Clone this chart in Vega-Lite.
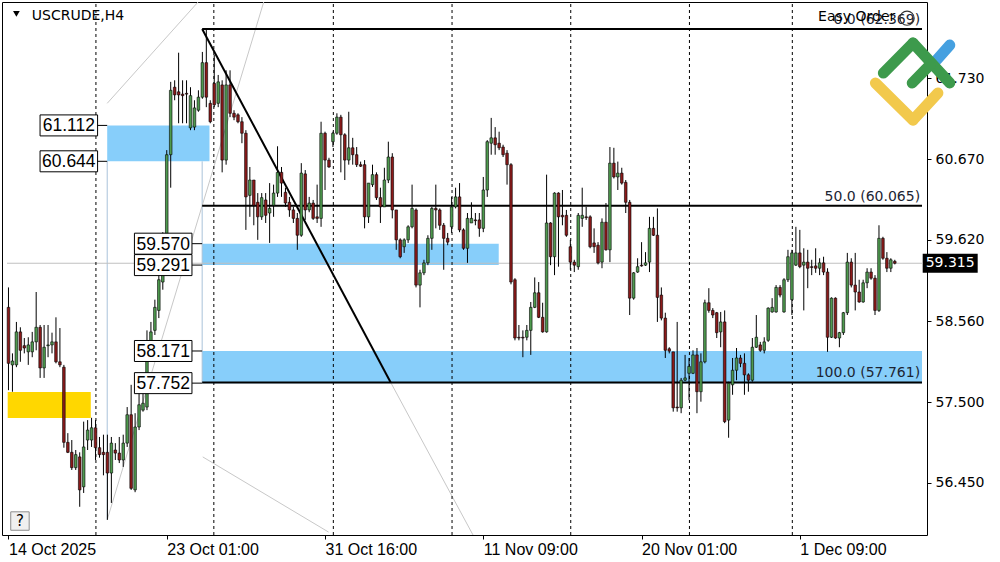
{
"$schema": "https://vega.github.io/schema/vega-lite/v6.json",
"width": 925, "height": 533,
"autosize": {"type": "none"},
"padding": {"left": 2, "top": 2, "right": 73, "bottom": 27},
"background": "white",
"config": {"view": {"stroke": "#000000", "strokeWidth": 1, "fill": "white"}},
"datasets": {
"candles": [
{"i":0,"o":58.74,"h":59.0,"l":57.66,"c":58.01},{"i":1,"o":57.99,"h":58.14,"l":57.64,"c":58.04},{"i":2,"o":57.99,"h":58.55,"l":57.96,"c":58.42},{"i":3,"o":58.42,"h":58.48,"l":58.03,"c":58.18},{"i":4,"o":58.24,"h":58.34,"l":58.14,"c":58.21},{"i":5,"o":58.16,"h":58.35,"l":57.99,"c":58.25},{"i":6,"o":58.16,"h":58.42,"l":58.09,"c":58.29},{"i":7,"o":58.29,"h":58.94,"l":58.18,"c":58.48},{"i":8,"o":58.48,"h":58.51,"l":57.82,"c":57.95},{"i":9,"o":57.95,"h":58.51,"l":57.82,"c":58.22},
{"i":10,"o":58.24,"h":58.51,"l":58.09,"c":58.25},{"i":11,"o":58.25,"h":58.41,"l":58.14,"c":58.29},{"i":12,"o":58.29,"h":58.61,"l":58.01,"c":58.03},{"i":13,"o":58.03,"h":58.47,"l":57.96,"c":57.99},{"i":14,"o":57.96,"h":57.99,"l":56.91,"c":56.98},{"i":15,"o":56.98,"h":57.1,"l":56.84,"c":56.85},{"i":16,"o":56.85,"h":57.01,"l":56.62,"c":56.65},{"i":17,"o":56.65,"h":56.88,"l":56.62,"c":56.82},{"i":18,"o":56.79,"h":56.85,"l":56.14,"c":56.36},{"i":19,"o":56.4,"h":57.25,"l":56.32,"c":56.92},
{"i":20,"o":57.01,"h":57.27,"l":56.88,"c":57.14},{"i":21,"o":57.01,"h":57.3,"l":56.92,"c":57.17},{"i":22,"o":57.17,"h":57.27,"l":56.75,"c":56.91},{"i":23,"o":56.91,"h":57.05,"l":56.78,"c":56.82},{"i":24,"o":56.85,"h":57.08,"l":56.55,"c":56.82},{"i":25,"o":56.85,"h":57.08,"l":55.97,"c":56.58},{"i":26,"o":56.58,"h":57.05,"l":56.19,"c":56.97},{"i":27,"o":56.88,"h":56.97,"l":56.75,"c":56.84},{"i":28,"o":56.84,"h":57.05,"l":56.71,"c":56.75},{"i":29,"o":56.75,"h":57.08,"l":56.66,"c":56.97},
{"i":30,"o":56.97,"h":57.44,"l":56.92,"c":57.34},{"i":31,"o":57.34,"h":57.73,"l":56.36,"c":56.38},{"i":32,"o":56.36,"h":57.36,"l":56.33,"c":57.18},{"i":33,"o":57.18,"h":57.7,"l":57.14,"c":57.47},{"i":34,"o":57.4,"h":57.75,"l":57.38,"c":57.49},{"i":35,"o":57.44,"h":58.44,"l":57.4,"c":58.18},{"i":36,"o":58.18,"h":58.55,"l":58.12,"c":58.42},{"i":37,"o":58.44,"h":58.84,"l":58.38,"c":58.74},{"i":38,"o":58.7,"h":59.23,"l":58.6,"c":59.1},{"i":39,"o":59.07,"h":59.72,"l":58.97,"c":59.62},
{"i":40,"o":59.55,"h":60.79,"l":59.45,"c":60.73},{"i":41,"o":60.73,"h":61.68,"l":60.3,"c":61.57},{"i":42,"o":61.61,"h":61.7,"l":61.44,"c":61.51},{"i":43,"o":61.55,"h":62.06,"l":61.14,"c":61.51},{"i":44,"o":61.52,"h":61.7,"l":61.14,"c":61.5},{"i":45,"o":61.53,"h":61.7,"l":61.14,"c":61.52},{"i":46,"o":61.08,"h":61.61,"l":61.05,"c":61.5},{"i":47,"o":61.09,"h":61.44,"l":61.05,"c":61.34},{"i":48,"o":61.31,"h":61.57,"l":61.29,"c":61.48},{"i":49,"o":61.48,"h":62.07,"l":61.46,"c":61.93},
{"i":50,"o":61.93,"h":62.369,"l":61.35,"c":61.48},{"i":51,"o":61.4,"h":61.44,"l":61.14,"c":61.16},{"i":52,"o":61.66,"h":62.03,"l":61.35,"c":61.38},{"i":53,"o":61.4,"h":61.77,"l":61.35,"c":61.68},{"i":54,"o":61.64,"h":61.7,"l":60.5,"c":60.66},{"i":55,"o":60.66,"h":61.83,"l":60.6,"c":61.64},{"i":56,"o":61.64,"h":61.83,"l":61.22,"c":61.27},{"i":57,"o":61.27,"h":61.31,"l":61.18,"c":61.22},{"i":58,"o":61.25,"h":61.27,"l":61.14,"c":61.16},{"i":59,"o":61.16,"h":61.22,"l":60.88,"c":61.01},
{"i":60,"o":61.01,"h":61.05,"l":59.75,"c":60.18},{"i":61,"o":60.2,"h":60.57,"l":59.92,"c":60.4},{"i":62,"o":60.4,"h":60.4,"l":59.81,"c":60.07},{"i":63,"o":60.11,"h":60.23,"l":59.62,"c":59.92},{"i":64,"o":59.92,"h":60.23,"l":59.88,"c":60.17},{"i":65,"o":60.14,"h":60.23,"l":59.84,"c":59.94},{"i":66,"o":59.97,"h":60.36,"l":59.58,"c":60.03},{"i":67,"o":60.07,"h":60.34,"l":59.92,"c":60.23},{"i":68,"o":60.23,"h":60.84,"l":60.18,"c":60.5},{"i":69,"o":60.5,"h":60.57,"l":60.18,"c":60.36},
{"i":70,"o":60.24,"h":60.3,"l":60.05,"c":60.1},{"i":71,"o":60.11,"h":60.18,"l":59.92,"c":60.01},{"i":72,"o":60.01,"h":60.05,"l":59.84,"c":59.9},{"i":73,"o":59.9,"h":59.97,"l":59.49,"c":59.68},{"i":74,"o":59.68,"h":60.62,"l":59.66,"c":60.49},{"i":75,"o":60.48,"h":60.53,"l":59.88,"c":60.01},{"i":76,"o":60.01,"h":60.18,"l":59.98,"c":60.1},{"i":77,"o":60.1,"h":60.14,"l":59.88,"c":59.9},{"i":78,"o":59.92,"h":60.34,"l":59.84,"c":59.9},{"i":79,"o":59.9,"h":61.16,"l":59.79,"c":61.01},
{"i":80,"o":61.01,"h":61.03,"l":60.27,"c":60.66},{"i":81,"o":60.66,"h":60.69,"l":60.56,"c":60.57},{"i":82,"o":60.9,"h":61.03,"l":60.83,"c":61.01},{"i":83,"o":61.01,"h":61.27,"l":60.99,"c":61.22},{"i":84,"o":61.22,"h":61.25,"l":60.5,"c":60.99},{"i":85,"o":60.99,"h":61.01,"l":60.4,"c":60.66},{"i":86,"o":60.66,"h":61.29,"l":60.6,"c":60.82},{"i":87,"o":60.82,"h":60.95,"l":60.6,"c":60.73},{"i":88,"o":60.73,"h":60.83,"l":60.57,"c":60.6},{"i":89,"o":60.6,"h":60.64,"l":60.57,"c":60.58},
{"i":90,"o":60.6,"h":60.66,"l":59.77,"c":59.92},{"i":91,"o":59.92,"h":60.36,"l":59.84,"c":60.36},{"i":92,"o":60.34,"h":60.6,"l":60.31,"c":60.47},{"i":93,"o":60.47,"h":60.5,"l":60.14,"c":60.17},{"i":94,"o":60.17,"h":60.3,"l":59.84,"c":60.05},{"i":95,"o":60.05,"h":60.56,"l":60.05,"c":60.4},{"i":96,"o":60.4,"h":60.9,"l":60.36,"c":60.7},{"i":97,"o":60.7,"h":60.75,"l":59.9,"c":60.01},{"i":98,"o":60.01,"h":60.01,"l":59.49,"c":59.62},{"i":99,"o":59.62,"h":59.64,"l":59.38,"c":59.4},
{"i":100,"o":59.53,"h":59.64,"l":59.45,"c":59.62},{"i":101,"o":59.62,"h":59.81,"l":59.58,"c":59.79},{"i":102,"o":59.79,"h":60.34,"l":59.77,"c":60.03},{"i":103,"o":60.01,"h":60.03,"l":59.0,"c":59.03},{"i":104,"o":59.03,"h":59.23,"l":58.74,"c":59.19},{"i":105,"o":59.19,"h":59.36,"l":59.16,"c":59.32},{"i":106,"o":59.32,"h":59.68,"l":59.29,"c":59.64},{"i":107,"o":59.64,"h":60.05,"l":59.49,"c":60.03},{"i":108,"o":60.03,"h":60.34,"l":59.77,"c":60.01},{"i":109,"o":60.01,"h":60.03,"l":59.75,"c":59.81},
{"i":110,"o":59.81,"h":59.84,"l":59.23,"c":59.64},{"i":111,"o":59.64,"h":59.71,"l":59.55,"c":59.59},{"i":112,"o":59.79,"h":60.18,"l":59.71,"c":60.05},{"i":113,"o":60.05,"h":60.3,"l":60.03,"c":60.18},{"i":114,"o":60.18,"h":60.36,"l":59.72,"c":59.75},{"i":115,"o":59.75,"h":59.77,"l":59.49,"c":59.51},{"i":116,"o":59.51,"h":59.97,"l":59.32,"c":59.9},{"i":117,"o":59.84,"h":60.11,"l":59.84,"c":59.9},{"i":118,"o":59.88,"h":59.97,"l":59.81,"c":59.87},{"i":119,"o":59.88,"h":59.97,"l":59.66,"c":59.77},
{"i":120,"o":59.77,"h":60.44,"l":59.72,"c":60.27},{"i":121,"o":60.27,"h":60.92,"l":60.18,"c":60.9},{"i":122,"o":60.88,"h":61.21,"l":60.73,"c":60.95},{"i":123,"o":60.95,"h":61.09,"l":60.73,"c":60.86},{"i":124,"o":60.88,"h":61.03,"l":60.79,"c":60.82},{"i":125,"o":60.83,"h":60.86,"l":60.7,"c":60.73},{"i":126,"o":60.75,"h":60.79,"l":60.34,"c":60.6},{"i":127,"o":60.6,"h":60.62,"l":59.04,"c":59.07},{"i":128,"o":59.1,"h":59.12,"l":58.31,"c":58.34},{"i":129,"o":58.35,"h":58.51,"l":58.31,"c":58.34},
{"i":130,"o":58.35,"h":58.44,"l":58.09,"c":58.34},{"i":131,"o":58.35,"h":58.51,"l":58.31,"c":58.44},{"i":132,"o":58.44,"h":58.81,"l":58.12,"c":58.74},{"i":133,"o":58.74,"h":59.13,"l":58.73,"c":58.93},{"i":134,"o":58.93,"h":59.07,"l":58.6,"c":58.61},{"i":135,"o":58.61,"h":58.8,"l":58.41,"c":58.42},{"i":136,"o":58.42,"h":60.47,"l":58.41,"c":59.84},{"i":137,"o":59.84,"h":59.85,"l":59.29,"c":59.4},{"i":138,"o":59.4,"h":60.24,"l":59.16,"c":60.23},{"i":139,"o":60.23,"h":60.24,"l":59.27,"c":59.92},
{"i":140,"o":59.94,"h":60.27,"l":59.81,"c":59.92},{"i":141,"o":59.94,"h":60.01,"l":59.66,"c":59.68},{"i":142,"o":59.53,"h":59.62,"l":59.23,"c":59.33},{"i":143,"o":59.33,"h":59.36,"l":59.2,"c":59.29},{"i":144,"o":59.27,"h":59.97,"l":59.23,"c":59.94},{"i":145,"o":59.9,"h":60.3,"l":59.79,"c":59.94},{"i":146,"o":59.92,"h":60.05,"l":59.88,"c":59.91},{"i":147,"o":59.92,"h":59.94,"l":59.51,"c":59.53},{"i":148,"o":59.58,"h":59.77,"l":59.45,"c":59.53},{"i":149,"o":59.55,"h":59.59,"l":59.3,"c":59.32},
{"i":150,"o":59.33,"h":59.9,"l":59.25,"c":59.85},{"i":151,"o":59.85,"h":60.1,"l":59.48,"c":59.49},{"i":152,"o":59.49,"h":60.83,"l":59.33,"c":60.62},{"i":153,"o":60.62,"h":60.82,"l":60.42,"c":60.44},{"i":154,"o":60.44,"h":60.64,"l":60.27,"c":60.49},{"i":155,"o":60.49,"h":60.56,"l":60.34,"c":60.36},{"i":156,"o":60.37,"h":60.4,"l":59.97,"c":60.11},{"i":157,"o":60.11,"h":60.14,"l":58.64,"c":58.86},{"i":158,"o":58.86,"h":59.2,"l":58.84,"c":59.19},{"i":159,"o":59.2,"h":59.38,"l":59.19,"c":59.27},
{"i":160,"o":59.29,"h":59.59,"l":59.27,"c":59.28},{"i":161,"o":59.29,"h":59.46,"l":59.28,"c":59.32},{"i":162,"o":59.33,"h":59.92,"l":59.2,"c":59.77},{"i":163,"o":59.77,"h":59.92,"l":59.67,"c":59.68},{"i":164,"o":59.68,"h":60.03,"l":58.55,"c":58.87},{"i":165,"o":58.9,"h":59.0,"l":58.57,"c":58.6},{"i":166,"o":58.6,"h":58.67,"l":58.08,"c":58.18},{"i":167,"o":58.2,"h":58.22,"l":58.14,"c":58.17},{"i":168,"o":58.16,"h":58.16,"l":57.38,"c":57.43},{"i":169,"o":57.44,"h":58.55,"l":57.38,"c":57.43},
{"i":170,"o":57.43,"h":57.82,"l":57.36,"c":57.79},{"i":171,"o":57.79,"h":58.12,"l":57.78,"c":57.82},{"i":172,"o":57.88,"h":58.08,"l":57.53,"c":57.97},{"i":173,"o":57.88,"h":58.18,"l":57.87,"c":58.12},{"i":174,"o":58.12,"h":58.21,"l":57.36,"c":57.64},{"i":175,"o":57.64,"h":58.14,"l":57.51,"c":58.03},{"i":176,"o":58.03,"h":58.84,"l":58.01,"c":58.8},{"i":177,"o":58.8,"h":58.99,"l":58.67,"c":58.7},{"i":178,"o":58.7,"h":58.73,"l":58.6,"c":58.64},{"i":179,"o":58.67,"h":58.68,"l":58.34,"c":58.41},
{"i":180,"o":58.42,"h":58.68,"l":58.22,"c":58.55},{"i":181,"o":58.55,"h":58.7,"l":57.23,"c":57.25},{"i":182,"o":57.27,"h":57.77,"l":57.04,"c":57.75},{"i":183,"o":57.73,"h":58.08,"l":57.6,"c":57.92},{"i":184,"o":57.92,"h":58.21,"l":57.79,"c":58.08},{"i":185,"o":58.08,"h":58.12,"l":57.96,"c":58.01},{"i":186,"o":58.01,"h":58.14,"l":57.6,"c":57.86},{"i":187,"o":57.86,"h":57.88,"l":57.64,"c":57.79},{"i":188,"o":57.79,"h":58.34,"l":57.77,"c":58.22},{"i":189,"o":58.22,"h":58.64,"l":58.21,"c":58.35},
{"i":190,"o":58.25,"h":58.29,"l":58.16,"c":58.18},{"i":191,"o":58.18,"h":58.35,"l":58.14,"c":58.29},{"i":192,"o":58.31,"h":58.74,"l":58.29,"c":58.73},{"i":193,"o":58.68,"h":58.86,"l":58.67,"c":58.74},{"i":194,"o":58.68,"h":59.03,"l":58.67,"c":59.0},{"i":195,"o":59.0,"h":59.03,"l":58.87,"c":58.9},{"i":196,"o":58.68,"h":59.12,"l":58.67,"c":59.1},{"i":197,"o":59.1,"h":59.49,"l":59.07,"c":59.4},{"i":198,"o":58.84,"h":59.49,"l":58.64,"c":59.45},{"i":199,"o":59.29,"h":59.79,"l":59.28,"c":59.45},
{"i":200,"o":59.45,"h":59.75,"l":59.25,"c":59.27},{"i":201,"o":59.29,"h":59.51,"l":58.7,"c":59.33},{"i":202,"o":59.33,"h":59.49,"l":58.99,"c":59.25},{"i":203,"o":59.27,"h":59.36,"l":59.16,"c":59.26},{"i":204,"o":59.28,"h":59.51,"l":59.19,"c":59.25},{"i":205,"o":59.25,"h":59.38,"l":59.16,"c":59.32},{"i":206,"o":59.32,"h":59.4,"l":59.16,"c":59.2},{"i":207,"o":59.2,"h":59.25,"l":58.16,"c":58.35},{"i":208,"o":58.35,"h":58.87,"l":58.34,"c":58.86},{"i":209,"o":58.86,"h":58.87,"l":58.33,"c":58.34},
{"i":210,"o":58.34,"h":58.42,"l":58.22,"c":58.41},{"i":211,"o":58.41,"h":58.68,"l":58.38,"c":58.67},{"i":212,"o":58.67,"h":59.45,"l":58.64,"c":59.33},{"i":213,"o":59.33,"h":59.38,"l":59.0,"c":59.03},{"i":214,"o":59.03,"h":59.45,"l":58.7,"c":58.94},{"i":215,"o":58.94,"h":59.1,"l":58.8,"c":58.81},{"i":216,"o":58.81,"h":59.1,"l":58.8,"c":59.06},{"i":217,"o":59.06,"h":59.25,"l":58.99,"c":59.2},{"i":218,"o":59.2,"h":59.25,"l":59.1,"c":59.12},{"i":219,"o":59.12,"h":59.16,"l":58.64,"c":58.7},
{"i":220,"o":58.7,"h":59.81,"l":58.68,"c":59.64},{"i":221,"o":59.64,"h":59.66,"l":59.36,"c":59.38},{"i":222,"o":59.38,"h":59.46,"l":59.2,"c":59.25},{"i":223,"o":59.25,"h":59.38,"l":59.2,"c":59.36},{"i":224,"o":59.34,"h":59.36,"l":59.3,"c":59.315}
]
},
"encoding": {
"x": {"field": "i", "type": "quantitative", "title": null,
"scale": {"domain": [-0.375, 230.875], "nice": false, "zero": false},
"axis": {"values": [0, 40, 80, 120, 160, 200], "labelExpr": "datum.value == 0 ? '14 Oct 2025' : datum.value == 40 ? '23 Oct 01:00' : datum.value == 80 ? '31 Oct 16:00' : datum.value == 120 ? '11 Nov 09:00' : datum.value == 160 ? '20 Nov 01:00' : '1 Dec 09:00'",
"labelAlign": "left", "labelBaseline": "top", "labelPadding": 2, "tickSize": 4, "tickColor": "#000000", "domain": false, "grid": false, "labelFont": "Liberation Sans", "labelFontSize": 16, "labelColor": "#000000", "labelFlush": false, "labelOverlap": false}},
"y": {"field": "p", "type": "quantitative", "title": null,
"scale": {"domain": [55.772, 62.721], "nice": false, "zero": false},
"axis": {"orient": "right", "values": [56.45, 57.5, 58.56, 59.62, 60.67, 61.73], "format": ".3f", "tickSize": 4, "tickColor": "#000000", "labelPadding": 4, "domain": false, "grid": false, "labelFont": "DejaVu Sans", "labelFontSize": 14, "labelColor": "#000000", "labelFlush": false, "labelOverlap": false}}
},
"layer": [
{"data": {"values": [{"i": 24.95, "i2": 50.8, "p": 61.112, "p2": 60.644}, {"i": 48.95, "i2": 123.9, "p": 59.57, "p2": 59.291}, {"i": 48.95, "i2": 230.875, "p": 58.171, "p2": 57.752}]},
"mark": {"type": "rect", "color": "#87cefa"},
"encoding": {"x2": {"field": "i2"}, "y2": {"field": "p2"}}},
{"data": {"values": [{"i": -0.2, "i2": 20.8, "p": 57.636, "p2": 57.297}]},
"mark": {"type": "rect", "color": "#ffd700"},
"encoding": {"x2": {"field": "i2"}, "y2": {"field": "p2"}}},
{"data": {"values": [{"i": 24.95, "p": 60.644, "p2": 55.97}, {"i": 48.95, "p": 60.644, "p2": 57.761}]},
"mark": {"type": "rule", "color": "#a9c2da", "strokeWidth": 1},
"encoding": {"y2": {"field": "p2"}}},
{"data": {"values": [{"i": 24.95, "p": 55.97, "i2": 64.5, "p2": 62.72}, {"i": 24.95, "p": 61.4, "i2": 47.9, "p2": 62.72}, {"i": 49.1, "p": 56.79, "i2": 80.9, "p2": 55.81}, {"i": 96.6, "p": 57.761, "i2": 117.4, "p2": 55.772}]},
"mark": {"type": "rule", "color": "#c8c8c8", "strokeWidth": 1},
"encoding": {"x2": {"field": "i2"}, "y2": {"field": "p2"}}},
{"data": {"values": [{"i": -0.375, "i2": 230.875, "p": 59.315}]},
"mark": {"type": "rule", "color": "#c0c0c0", "strokeWidth": 1},
"encoding": {"x2": {"field": "i2"}}},
{"data": {"values": [{"i": 22.1, "p": 55.772, "p2": 62.721}, {"i": 51.9, "p": 55.772, "p2": 62.721}, {"i": 82.1, "p": 55.772, "p2": 62.721}, {"i": 112.1, "p": 55.772, "p2": 62.721}, {"i": 142.1, "p": 55.772, "p2": 62.721}, {"i": 172.1, "p": 55.772, "p2": 62.721}, {"i": 198.1, "p": 55.772, "p2": 62.721}]},
"mark": {"type": "rule", "color": "#000000", "strokeWidth": 1, "strokeDash": [3, 3]},
"encoding": {"y2": {"field": "p2"}}},
{"data": {"values": [{"i": 48.95, "i2": 230.875, "p": 62.369}, {"i": 48.95, "i2": 230.875, "p": 60.065}, {"i": 48.95, "i2": 230.875, "p": 57.761}]},
"mark": {"type": "rule", "color": "#000000", "strokeWidth": 2},
"encoding": {"x2": {"field": "i2"}}},
{"data": {"values": [{"i": 48.95, "p": 62.369, "i2": 96.6, "p2": 57.761}]},
"mark": {"type": "rule", "color": "#000000", "strokeWidth": 2},
"encoding": {"x2": {"field": "i2"}, "y2": {"field": "p2"}}},
{"data": {"name": "candles"},
"mark": {"type": "rule", "color": "#000000", "strokeWidth": 1},
"encoding": {"y": {"field": "l", "type": "quantitative", "title": null,
"scale": {"domain": [55.772, 62.721], "nice": false, "zero": false},
"axis": {"orient": "right", "values": [56.45, 57.5, 58.56, 59.62, 60.67, 61.73], "format": ".3f", "tickSize": 4, "tickColor": "#000000", "labelPadding": 4, "domain": false, "grid": false, "labelFont": "DejaVu Sans", "labelFontSize": 14, "labelColor": "#000000", "labelFlush": false, "labelOverlap": false}},
"y2": {"field": "h"}}},
{"data": {"name": "candles"},
"mark": {"type": "bar", "size": 2.6, "stroke": "#000000", "strokeWidth": 0.6},
"encoding": {"y": {"field": "o", "type": "quantitative", "title": null,
"scale": {"domain": [55.772, 62.721], "nice": false, "zero": false},
"axis": {"orient": "right", "values": [56.45, 57.5, 58.56, 59.62, 60.67, 61.73], "format": ".3f", "tickSize": 4, "tickColor": "#000000", "labelPadding": 4, "domain": false, "grid": false, "labelFont": "DejaVu Sans", "labelFontSize": 14, "labelColor": "#000000", "labelFlush": false, "labelOverlap": false}},
"y2": {"field": "c"},
"color": {"condition": {"test": "datum.c >= datum.o", "value": "#4e9a4e"}, "value": "#8b1a1a"}}},
{"data": {"values": [{"i": 230.4, "p": 62.369, "t": "0.0 (62.369)"}, {"i": 230.4, "p": 60.065, "t": "50.0 (60.065)"}, {"i": 230.4, "p": 57.761, "t": "100.0 (57.761)"}]},
"mark": {"type": "text", "align": "right", "baseline": "bottom", "dy": -2, "font": "DejaVu Sans", "fontSize": 14, "color": "#1c2533"},
"encoding": {"text": {"field": "t"}}},
{"data": {"values": [{"i": 22.4, "i2": 24.95, "p": 61.112}, {"i": 22.4, "i2": 24.95, "p": 60.644}, {"i": 46.4, "i2": 48.95, "p": 59.57}, {"i": 46.4, "i2": 48.95, "p": 59.291}, {"i": 46.4, "i2": 48.95, "p": 58.171}, {"i": 46.4, "i2": 48.95, "p": 57.752}]},
"mark": {"type": "rule", "color": "#000000", "strokeWidth": 1},
"encoding": {"x2": {"field": "i2"}}},
{"data": {"values": [{"i": 15.25, "p": 61.112, "t": "61.112"}, {"i": 15.25, "p": 60.644, "t": "60.644"}, {"i": 39.1, "p": 59.57, "t": "59.570"}, {"i": 39.1, "p": 59.291, "t": "59.291"}, {"i": 39.1, "p": 58.171, "t": "58.171"}, {"i": 39.1, "p": 57.752, "t": "57.752"}]},
"layer": [
{"mark": {"type": "point", "shape": "M-1,-0.365H1V0.365H-1Z", "size": 3310, "filled": true, "fill": "#ffffff", "stroke": "#000000", "strokeWidth": 1, "opacity": 1}},
{"mark": {"type": "text", "align": "center", "baseline": "middle", "dy": 1, "font": "Liberation Sans", "fontSize": 17.5, "color": "#000000"}, "encoding": {"text": {"field": "t"}}}
]},
{"data": {"values": [{"i": 2.0, "p": 62.565}]},
"mark": {"type": "point", "shape": "triangle-down", "size": 45, "filled": true, "color": "#000000", "opacity": 1}},
{"data": {"values": [{"i": 5.9, "p": 62.54, "t": "USCRUDE,H4"}, {"i": 204.6, "p": 62.525, "t": "Easy Order"}]},
"mark": {"type": "text", "align": "left", "baseline": "middle", "font": "DejaVu Sans", "fontSize": 14, "color": "#000000"},
"encoding": {"text": {"field": "t"}}},
{"data": {"values": [{"i": 227.1, "p": 62.51}]},
"mark": {"type": "point", "shape": "circle", "size": 200, "filled": false, "stroke": "#333333", "strokeWidth": 1.2, "opacity": 1}},
{"data": {"values": [{"i": 2.9, "p": 55.954, "t": "?"}]},
"layer": [
{"mark": {"type": "point", "shape": "square", "size": 340, "filled": true, "fill": "#f0f0f0", "stroke": "#8c8c8c", "strokeWidth": 1, "opacity": 1}},
{"mark": {"type": "text", "align": "center", "baseline": "middle", "font": "DejaVu Sans", "fontSize": 15, "color": "#000000"}, "encoding": {"text": {"field": "t"}}}
]},
{"data": {"values": [{"i": 238.0, "p": 59.315, "t": "59.315"}]},
"layer": [
{"mark": {"type": "point", "shape": "M-1,-0.32H1V0.32H-1Z", "size": 2809, "filled": true, "fill": "#000000", "stroke": "#000000", "opacity": 1}},
{"mark": {"type": "text", "align": "center", "baseline": "middle", "font": "DejaVu Sans", "fontSize": 14, "color": "#ffffff"}, "encoding": {"text": {"field": "t"}}}
]},
{"data": {"values": [{"i": 234.6, "p": 61.965, "i2": 237.9, "p2": 62.16}]},
"mark": {"type": "rule", "color": "#45a0e0", "strokeWidth": 11, "strokeCap": "round"},
"encoding": {"x2": {"field": "i2"}, "y2": {"field": "p2"}}},
{"data": {"values": [{"i": 219.1, "p": 61.665, "i2": 228.6, "p2": 61.182}, {"i": 228.6, "p": 61.182, "i2": 234.9, "p2": 61.534}]},
"mark": {"type": "rule", "color": "#f2c94c", "strokeWidth": 11, "strokeCap": "round"},
"encoding": {"x2": {"field": "i2"}, "y2": {"field": "p2"}}},
{"data": {"values": [{"i": 221.1, "p": 61.795, "i2": 228.6, "p2": 62.186}, {"i": 228.6, "p": 62.186, "i2": 237.9, "p2": 61.665}, {"i": 228.4, "p": 61.665, "i2": 232.9, "p2": 61.9}]},
"mark": {"type": "rule", "color": "#3d9a4c", "strokeWidth": 11, "strokeCap": "round"},
"encoding": {"x2": {"field": "i2"}, "y2": {"field": "p2"}}}
]
}
